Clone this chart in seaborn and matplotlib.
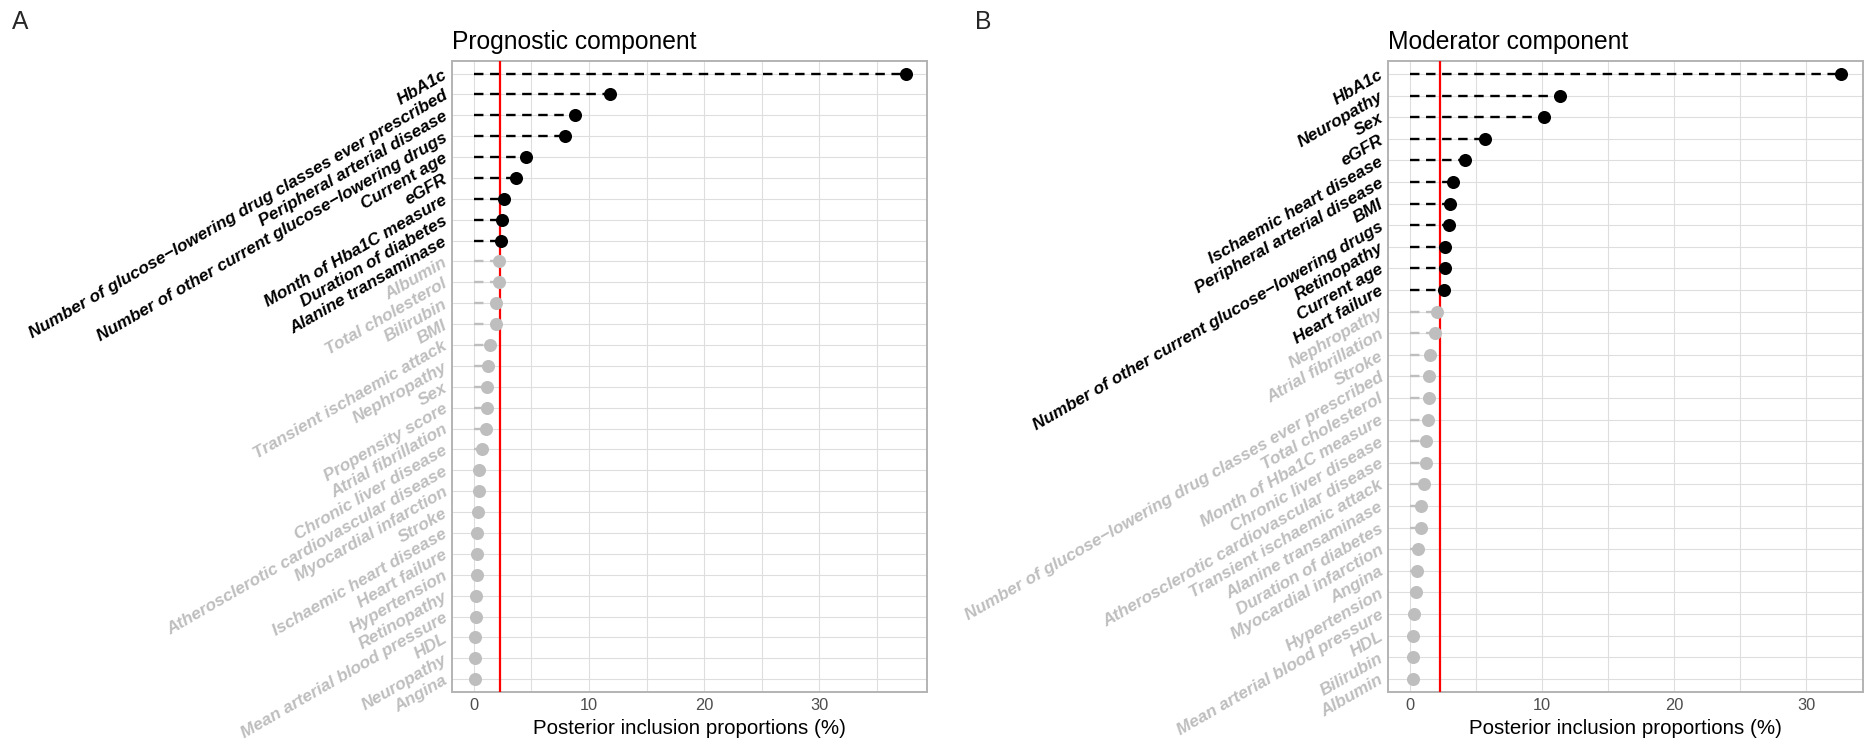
import numpy as np
import pandas as pd
import matplotlib
matplotlib.use("Agg")
import matplotlib.pyplot as plt
import seaborn as sns

# ---- data: posterior inclusion proportions (%) ----
prog_vars = [
    "HbA1c",
    "Number of glucose\u2212lowering drug classes ever prescribed",
    "Peripheral arterial disease",
    "Number of other current glucose\u2212lowering drugs",
    "Current age",
    "eGFR",
    "Month of Hba1C measure",
    "Duration of diabetes",
    "Alanine transaminase",
    "Albumin",
    "Total cholesterol",
    "Bilirubin",
    "BMI",
    "Transient ischaemic attack",
    "Nephropathy",
    "Sex",
    "Propensity score",
    "Atrial fibrillation",
    "Chronic liver disease",
    "Atherosclerotic cardiovascular disease",
    "Myocardial infarction",
    "Stroke",
    "Ischaemic heart disease",
    "Heart failure",
    "Hypertension",
    "Retinopathy",
    "Mean arterial blood pressure",
    "HDL",
    "Neuropathy",
    "Angina",
]
prog_vals = [37.5, 11.86, 8.76, 7.89, 4.52, 3.67, 2.60, 2.43, 2.37, 2.21,
             2.16, 1.94, 1.88, 1.36, 1.21, 1.16, 1.10, 1.07, 0.69, 0.43,
             0.43, 0.40, 0.29, 0.26, 0.23, 0.17, 0.14, 0.12, 0.12, 0.09]
prog_threshold = 2.24

mod_vars = [
    "HbA1c",
    "Neuropathy",
    "Sex",
    "eGFR",
    "Ischaemic heart disease",
    "Peripheral arterial disease",
    "BMI",
    "Number of other current glucose\u2212lowering drugs",
    "Retinopathy",
    "Current age",
    "Heart failure",
    "Nephropathy",
    "Atrial fibrillation",
    "Stroke",
    "Number of glucose\u2212lowering drug classes ever prescribed",
    "Total cholesterol",
    "Month of Hba1C measure",
    "Chronic liver disease",
    "Atherosclerotic cardiovascular disease",
    "Transient ischaemic attack",
    "Alanine transaminase",
    "Duration of diabetes",
    "Myocardial infarction",
    "Angina",
    "Hypertension",
    "Mean arterial blood pressure",
    "HDL",
    "Bilirubin",
    "Albumin",
]
mod_vals = [32.65, 11.36, 10.15, 5.68, 4.21, 3.25, 3.02, 2.94, 2.64, 2.64,
            2.59, 2.08, 1.88, 1.52, 1.45, 1.45, 1.37, 1.24, 1.24, 1.04,
            0.81, 0.81, 0.61, 0.51, 0.48, 0.30, 0.23, 0.23, 0.20]
mod_threshold = 2.27

panel_titles = ["Prognostic component", "Moderator component"]
panel_tags = ["A", "B"]
x_label = "Posterior inclusion proportions (%)"

# ---- styling ----
GREY = "#BEBEBE"
BORDER = "#B3B3B3"
GRID = "#DEDEDE"

sns.set_theme(style="whitegrid")
plt.rcParams["font.family"] = ["Liberation Sans", "DejaVu Sans"]

W, H, DPI = 1867, 746, 100
fig = plt.figure(figsize=(W / DPI, H / DPI), dpi=DPI)
fig.patch.set_facecolor("white")


def px_axes(x0, x1, y0, y1):
    """Axes given by pixel edges (left, right, top, bottom)."""
    return fig.add_axes([x0 / W, 1 - y1 / H, (x1 - x0) / W, (y1 - y0) / H])


def draw_panel(ax, names, values, threshold, title):
    df = pd.DataFrame({"variable": names, "pip": values})
    df["status"] = np.where(df["pip"] > threshold, "selected", "other")
    n = len(df)
    pos = np.arange(n)
    seg_colors = np.where(df["status"] == "selected", "black", GREY)

    ax.set_facecolor("white")
    ax.hlines(pos, 0, df["pip"], colors=seg_colors, linestyles=(0, (4.0, 2.8)),
              linewidth=1.7, zorder=2)
    ax.axvline(threshold, color="red", linewidth=1.6, zorder=3)
    sns.stripplot(data=df, x="pip", y="variable", order=names,
                  hue="status", hue_order=["selected", "other"],
                  palette={"selected": "black", "other": GREY},
                  jitter=False, size=9.4, linewidth=0, legend=False,
                  ax=ax, zorder=4)

    vmax = df["pip"].max()
    pad = 0.05 * vmax
    ax.set_xlim(-pad, vmax + pad)
    ax.set_ylim(n - 1 + 0.6, -0.6)

    ax.set_xticks([0, 10, 20, 30])
    ax.set_xticks(np.arange(5, vmax + pad, 10), minor=True)
    ax.grid(True, which="major", color=GRID, linewidth=0.8, zorder=0)
    ax.grid(True, which="minor", axis="x", color=GRID, linewidth=0.8, zorder=0)
    ax.set_axisbelow(True)

    for sp in ax.spines.values():
        sp.set_color(BORDER)
        sp.set_linewidth(1.4)
        sp.set_visible(True)

    ax.tick_params(axis="both", which="major", length=2.5, width=0.7,
                   color=BORDER, pad=2)
    ax.tick_params(axis="x", which="minor", length=0)
    ax.tick_params(axis="x", labelsize=11.8, labelcolor="#4D4D4D")

    ax.set_yticks(pos)
    ax.set_yticklabels(names)
    for lab, st in zip(ax.get_yticklabels(), df["status"]):
        lab.set_rotation(30)
        lab.set_rotation_mode("anchor")
        lab.set_ha("right")
        lab.set_va("center")
        lab.set_fontsize(12.4)
        lab.set_fontweight("bold")
        lab.set_fontstyle("italic")
        lab.set_color("black" if st == "selected" else GREY)

    ax.set_xlabel(x_label, fontsize=14.8, color="black", labelpad=4)
    ax.set_ylabel("")
    ax.set_title(title, loc="left", fontsize=17.7, color="black", pad=9)


ax_left = px_axes(452.3, 927.3, 61, 691.7)
ax_right = px_axes(1388.3, 1862.7, 61, 691.7)

draw_panel(ax_left, prog_vars, prog_vals, prog_threshold, panel_titles[0])
draw_panel(ax_right, mod_vars, mod_vals, mod_threshold, panel_titles[1])

fig.text(12 / W, 1 - 29 / H, panel_tags[0], fontsize=17.7, va="baseline", ha="left")
fig.text(975 / W, 1 - 29 / H, panel_tags[1], fontsize=17.7, va="baseline", ha="left")

fig.savefig("out.png", dpi=DPI, facecolor="white")
